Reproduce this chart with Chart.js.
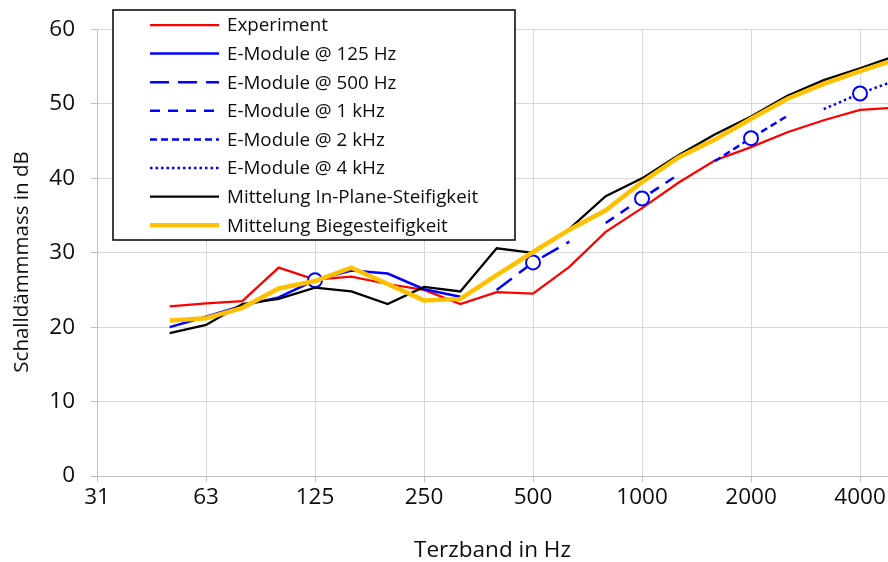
<!DOCTYPE html>
<html><head><meta charset="utf-8">
<script src="https://cdn.jsdelivr.net/npm/chart.js@4.4.0/dist/chart.umd.min.js"></script>
<style>html,body{margin:0;padding:0;background:#fff;overflow:hidden}</style>
</head><body>
<canvas id="c" width="888" height="562"></canvas>
<script>
// Third-octave band centre frequencies (index = position on the x axis)
const bands = ['31.5','40','50','63','80','100','125','160','200','250','315','400','500','630','800','1000','1250','1600','2000','2500','3150','4000','5000'];
const tickBandIdx = [0,3,6,9,12,15,18,21];
const tickLabels = ['31','63','125','250','500','1000','2000','4000'];

const experiment = [null,null,22.8,23.2,23.5,28.0,26.4,26.8,25.8,25.0,23.1,24.7,24.5,28.1,32.8,36.0,39.4,42.4,44.2,46.2,47.8,49.2,49.5];
const emod125   = [null,null,20.0,21.4,22.9,24.0,26.3,27.6,27.2,25.1,24.1,null,null,null,null,null,null,null,null,null,null,null,null];
const emod500   = [null,null,null,null,null,null,null,null,null,null,null,25.0,28.7,31.5,null,null,null,null,null,null,null,null,null];
const emod1k    = [null,null,null,null,null,null,null,null,null,null,null,null,null,null,34.0,37.3,40.5,null,null,null,null,null,null];
const emod2k    = [null,null,null,null,null,null,null,null,null,null,null,null,null,null,null,null,null,42.3,45.4,48.4,null,null,null];
const emod4k    = [null,null,null,null,null,null,null,null,null,null,null,null,null,null,null,null,null,null,null,null,49.3,51.4,53.2];
const inPlane   = [null,null,19.2,20.3,23.1,23.8,25.3,24.8,23.1,25.4,24.8,30.6,30.0,33.2,37.6,40.0,43.1,45.9,48.3,51.1,53.2,54.8,56.5];
const biege     = [null,null,20.9,21.2,22.6,25.2,26.2,28.0,25.8,23.6,23.8,27.0,30.1,33.1,35.7,39.5,42.8,45.2,48.0,50.7,52.7,54.4,56.0];

const seriesLabels = ['Experiment','E-Module @ 125 Hz','E-Module @ 500 Hz','E-Module @ 1 kHz','E-Module @ 2 kHz','E-Module @ 4 kHz','Mittelung In-Plane-Steifigkeit','Mittelung Biegesteifigkeit'];
const markerIdx = [null,6,12,15,18,21,null,null];
const yTitle = 'Schalldämmmass in dB';
const xTitle = 'Terzband in Hz';

const FONT = '"Open Sans"';
const TEXT = '#0d0d0d';
const BLUE = '#0000ff';

function pts(arr){ return arr.map((v,i)=>({x:i,y:v})); }
function radii(arr, mi){ return arr.map((v,i)=> i===mi ? 7 : 0); }

const specs = [
  {data:experiment, color:'#ff0000', width:2.25, dash:[]},
  {data:emod125, color:BLUE, width:2.5, dash:[]},
  {data:emod500, color:BLUE, width:2.5, dash:[19,9]},
  {data:emod1k, color:BLUE, width:2.5, dash:[10,8]},
  {data:emod2k, color:BLUE, width:2.5, dash:[7,4]},
  {data:emod4k, color:BLUE, width:2.5, dash:[2.5,3]},
  {data:inPlane, color:'#000000', width:2.25, dash:[]},
  {data:biege, color:'#ffc000', width:4.5, dash:[]}
];

const datasets = specs.map((s,k)=>({
  label: seriesLabels[k],
  data: pts(s.data),
  borderColor: s.color,
  borderWidth: s.width,
  borderDash: s.dash,
  borderCapStyle: 'butt',
  fill: false,
  tension: 0,
  spanGaps: false,
  pointRadius: radii(s.data, markerIdx[k]),
  pointHoverRadius: 0,
  pointBorderColor: BLUE,
  pointBackgroundColor: '#ffffff',
  pointBorderWidth: 2,
  order: specs.length - k
}));

const legendPlugin = {
  id: 'boxLegend',
  afterDatasetsDraw(chart){
    const ctx = chart.ctx;
    const x0 = 113, y0 = 10, w = 402, h = 230;
    ctx.save();
    ctx.fillStyle = '#ffffff';
    ctx.fillRect(x0, y0, w, h);
    ctx.strokeStyle = '#000000';
    ctx.lineWidth = 1.5;
    ctx.strokeRect(x0, y0, w, h);
    ctx.font = '18.8px ' + FONT;
    ctx.textBaseline = 'middle';
    ctx.textAlign = 'left';
    chart.data.datasets.forEach((ds,k)=>{
      const y = y0 + 15 + k*28.6;
      ctx.beginPath();
      ctx.setLineDash(ds.borderDash || []);
      ctx.lineWidth = ds.borderWidth;
      ctx.strokeStyle = ds.borderColor;
      ctx.moveTo(150, y);
      ctx.lineTo(219, y);
      ctx.stroke();
      ctx.setLineDash([]);
      ctx.fillStyle = TEXT;
      ctx.fillText(ds.label, 227, y+1);
    });
    ctx.restore();
  }
};

const yTitlePlugin = {
  id: 'yTitle',
  afterDraw(chart){
    const ctx = chart.ctx;
    ctx.save();
    ctx.translate(22, 262);
    ctx.rotate(-Math.PI/2);
    ctx.font = '20.5px ' + FONT;
    ctx.fillStyle = TEXT;
    ctx.textAlign = 'center';
    ctx.textBaseline = 'middle';
    ctx.fillText(yTitle, 0, 0);
    ctx.restore();
  }
};

new Chart(document.getElementById('c'), {
  type: 'line',
  data: { datasets },
  options: {
    responsive: false,
    animation: false,
    devicePixelRatio: 1,
    layout: { padding: { top: 26, right: 0, left: 0, bottom: 0 } },
    plugins: { legend: { display: false }, tooltip: { enabled: false } },
    scales: {
      x: {
        type: 'linear',
        min: 0,
        max: 21.77,
        afterBuildTicks(scale){ scale.ticks = tickBandIdx.map(v=>({value:v})); },
        afterFit(scale){ scale.height = 86; },
        ticks: {
          autoSkip: false,
          maxRotation: 0,
          padding: 2,
          color: TEXT,
          font: { family: FONT, size: 22.5 },
          callback(v){ const i = tickBandIdx.indexOf(v); return i >= 0 ? tickLabels[i] : ''; }
        },
        grid: { color: '#d9d9d9', lineWidth: 1, tickLength: 6, tickColor: '#bfbfbf' },
        border: { color: '#bfbfbf', width: 1 },
        title: { display: true, text: xTitle, color: TEXT, font: { family: FONT, size: 22.5 }, padding: { top: 0, bottom: -2 } }
      },
      y: {
        min: 0,
        max: 60,
        afterFit(scale){ scale.width = 97; },
        ticks: { stepSize: 10, padding: 16, color: TEXT, font: { family: FONT, size: 22.5 } },
        grid: { color: '#d9d9d9', lineWidth: 1, tickLength: 6, tickColor: '#bfbfbf' },
        border: { color: '#bfbfbf', width: 1 },
        title: { display: false }
      }
    }
  },
  plugins: [legendPlugin, yTitlePlugin]
});
</script>
</body></html>
